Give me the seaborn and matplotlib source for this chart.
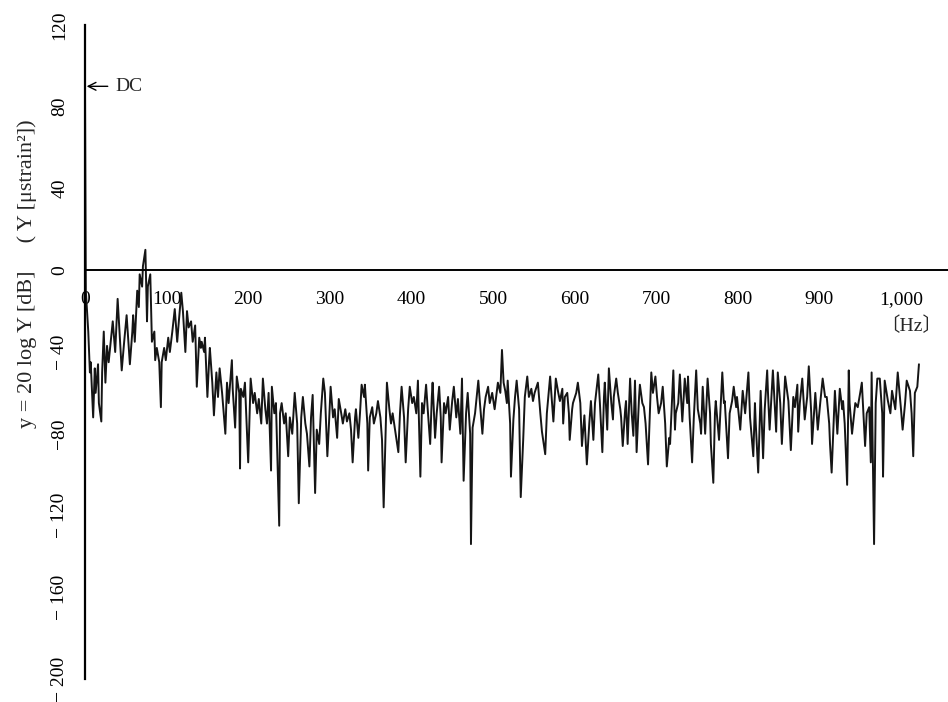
import numpy as np
import pandas as pd
import matplotlib
matplotlib.use("Agg")
import matplotlib.pyplot as plt
import seaborn as sns

# ---- data: frequency [Hz] and level y = 20 log Y [dB] ----
freq_a = [0, 1, 4, 6, 7, 10, 12, 13, 16, 17, 20, 21, 23, 25, 27, 29, 32, 34, 37, 40,
          43, 45, 48, 51, 54, 55, 58, 59, 61, 64, 66, 67, 70, 71, 74, 76, 77, 80, 82, 85,
          86, 88, 91, 93, 94, 97, 99, 102, 104, 107, 110, 113, 115, 118, 120, 123, 125, 127, 130, 132,
          135, 137, 140, 142]
level_a = [88, -10, -30, -50, -45, -72, -48, -60, -46, -65, -74, -50, -30, -55, -37, -45, -33, -25, -40, -14,
           -35, -49, -35, -22, -40, -46, -30, -22, -35, -10, -18, -2, -8, 2, 10, -25, -8, -2, -35, -30,
           -44, -38, -45, -67, -45, -38, -44, -33, -40, -30, -19, -35, -25, -11, -20, -40, -20, -28, -25, -35,
           -27, -57, -33, -38]

freq_b = [143, 146, 147, 150, 152, 153, 156, 158, 161, 163, 165, 168, 172, 174, 176, 180, 181, 184, 186, 189,
          190, 191, 194, 196, 200, 203, 206, 208, 211, 213, 216, 218, 221, 223, 225, 228, 229, 232, 234, 238,
          239, 241, 244, 246, 249, 251, 254, 257, 260, 262, 265, 267, 270, 272, 275, 277, 279, 282, 284, 287,
          289, 292]
level_b = [-35, -40, -33, -62, -45, -38, -55, -71, -50, -62, -48, -60, -80, -55, -65, -44, -58, -77, -52, -60,
           -97, -58, -62, -55, -94, -53, -65, -60, -70, -63, -75, -53, -68, -75, -60, -98, -57, -70, -65, -125,
           -70, -65, -75, -70, -91, -72, -80, -60, -75, -114, -72, -62, -75, -80, -96, -72, -61, -109, -78, -85,
           -70, -53]

freq_c = [294, 297, 299, 301, 304, 306, 309, 311, 314, 316, 319, 321, 324, 326, 328, 331, 332, 335, 337, 339,
          342, 343, 346, 347, 349, 352, 354, 357, 359, 362, 364, 366, 369, 370, 373, 375, 377, 380, 384, 386,
          388, 391, 393, 396, 398, 401, 403, 406, 408, 411, 413, 415, 418, 420, 423, 425, 426, 429, 431, 434,
          436, 437]
level_c = [-60, -91, -75, -57, -72, -68, -82, -63, -70, -75, -68, -74, -70, -78, -94, -72, -68, -82, -70, -56,
           -62, -56, -75, -98, -72, -67, -75, -70, -64, -72, -83, -116, -70, -55, -68, -75, -70, -78, -89, -70,
           -57, -72, -94, -68, -57, -65, -62, -70, -54, -101, -65, -70, -56, -68, -85, -62, -55, -82, -70, -57,
           -72, -94]

freq_d = [440, 442, 445, 447, 450, 452, 455, 457, 460, 462, 464, 467, 469, 472, 473, 475, 478, 482, 484, 487,
          489, 491, 494, 496, 499, 502, 506, 509, 511, 513, 515, 517, 518, 521, 522, 525, 527, 529, 532, 534,
          537, 539, 542, 544, 547, 549, 551, 555, 558, 560, 564, 566, 570, 574, 577, 580, 582, 585]
level_d = [-65, -70, -62, -78, -64, -57, -72, -63, -80, -53, -103, -70, -60, -80, -134, -77, -70, -54, -65, -80,
           -68, -62, -57, -65, -60, -68, -55, -60, -39, -55, -59, -65, -54, -75, -101, -73, -62, -54, -68, -111,
           -83, -62, -52, -62, -58, -64, -60, -55, -70, -79, -90, -70, -52, -74, -53, -60, -64, -58]

freq_e = [586, 588, 591, 593, 594, 597, 598, 602, 604, 607, 609, 612, 615, 618, 620, 623, 625, 629, 631, 634,
          636, 637, 640, 642, 645, 647, 648, 651, 653, 656, 657, 659, 662, 663, 665, 668, 670, 672, 674, 676,
          679, 680, 683, 685, 687, 690, 694, 696, 699, 701, 703, 706, 708, 711, 713, 716, 717, 721, 723, 724,
          727, 729]
level_e = [-75, -62, -60, -70, -83, -68, -65, -60, -55, -65, -86, -71, -95, -75, -64, -83, -65, -51, -65, -89,
           -62, -55, -78, -48, -65, -73, -62, -53, -60, -68, -72, -86, -68, -64, -85, -53, -70, -81, -54, -89,
           -62, -56, -65, -67, -75, -95, -50, -60, -52, -62, -70, -65, -57, -75, -96, -82, -85, -49, -78, -70,
           -65, -51]

freq_f = [732, 735, 738, 739, 741, 744, 746, 749, 751, 754, 755, 757, 760, 763, 766, 767, 770, 772, 773, 777,
          781, 783, 784, 788, 790, 793, 795, 798, 799, 803, 806, 809, 813, 815, 819, 821, 822, 825, 828, 831,
          833, 836, 837, 839, 843, 847, 849, 852, 854, 858, 862, 865, 868, 870, 873, 874, 876, 879]
level_f = [-74, -53, -65, -52, -72, -94, -73, -49, -68, -75, -80, -57, -80, -53, -70, -85, -104, -70, -64, -83,
           -50, -65, -64, -92, -70, -64, -57, -67, -62, -78, -59, -70, -50, -72, -91, -65, -75, -99, -59, -92,
           -68, -49, -60, -78, -49, -79, -50, -65, -85, -52, -64, -88, -62, -67, -56, -79, -65, -53]

freq_g = [882, 885, 887, 890, 891, 895, 898, 901, 904, 907, 909, 912, 913, 915, 919, 922, 925, 928, 929, 931,
          934, 936, 937, 940, 944, 947, 950, 952, 956, 958, 961, 963, 964, 967, 969, 971, 974, 977, 978, 980,
          984, 987, 989, 993, 996, 1000, 1002, 1005, 1007, 1011, 1013, 1015, 1017, 1020, 1022]
level_g = [-73, -62, -47, -70, -85, -60, -78, -65, -53, -62, -62, -75, -85, -99, -59, -80, -58, -68, -64, -75,
           -105, -49, -65, -80, -65, -67, -60, -55, -86, -70, -67, -94, -50, -134, -65, -53, -53, -70, -101, -54,
           -64, -70, -59, -68, -50, -68, -78, -65, -54, -59, -70, -91, -60, -57, -46]

xtick_vals = [0, 100, 200, 300, 400, 500, 600, 700, 800, 900, 1000]
xtick_labels = ["0", "100", "200", "300", "400", "500", "600", "700", "800", "900", "1,000"]
ytick_vals = [120, 80, 40, 0, -40, -80, -120, -160, -200]
ytick_labels = ["120", "80", "40", "0", "\u2212 40", "\u221280", "\u2212 120", "\u2212 160", "\u2212 200"]
dc_level = 90

freq = freq_a + freq_b + freq_c + freq_d + freq_e + freq_f + freq_g
level = level_a + level_b + level_c + level_d + level_e + level_f + level_g
df = pd.DataFrame({"freq": freq, "level": level})

sns.set_style("white")
plt.rcParams["font.family"] = ["Liberation Serif", "Noto Sans CJK JP", "DejaVu Sans"]

fig = plt.figure(figsize=(9.48, 7.02), dpi=100)
ax = fig.add_axes([85 / 948, 23 / 702, 863 / 948, 654 / 702])

sns.lineplot(data=df, x="freq", y="level", ax=ax, color="#151515", lw=1.4,
             sort=False, estimator=None)

ax.set_xlim(0, 1057.6)
ax.set_ylim(-200, 120)

for s in ["top", "right"]:
    ax.spines[s].set_visible(False)
ax.spines["bottom"].set_position(("data", 0))
ax.spines["bottom"].set_linewidth(1.4)
ax.spines["bottom"].set_color("black")
ax.spines["left"].set_linewidth(1.6)
ax.spines["left"].set_color("black")

ax.set_xticks(xtick_vals)
ax.set_xticklabels(xtick_labels)
ax.tick_params(axis="x", direction="out", length=4, width=1, pad=11,
               labelsize=14, colors="black")
ax.set_yticks(ytick_vals)
ax.set_yticklabels(ytick_labels, rotation=90, va="center")
ax.tick_params(axis="y", direction="out", length=4, width=1, pad=8,
               labelsize=14, colors="black")

ax.set_xlabel("")
ax.set_ylabel("y = 20 log Y [dB]     ( Y [\u03bcstrain\u00b2])", fontsize=16)
ax.yaxis.set_label_coords(-0.056, 0.62)

ax.text(1012, -27, "\u3014Hz\u3015", ha="center", va="center", fontsize=14)
ax.annotate("DC", xy=(2, dc_level), xytext=(37, dc_level), ha="left", va="center",
            fontsize=14,
            arrowprops=dict(arrowstyle="->", lw=1, color="black", shrinkA=3, shrinkB=0))

fig.savefig("out.png", dpi=100, facecolor="white")
